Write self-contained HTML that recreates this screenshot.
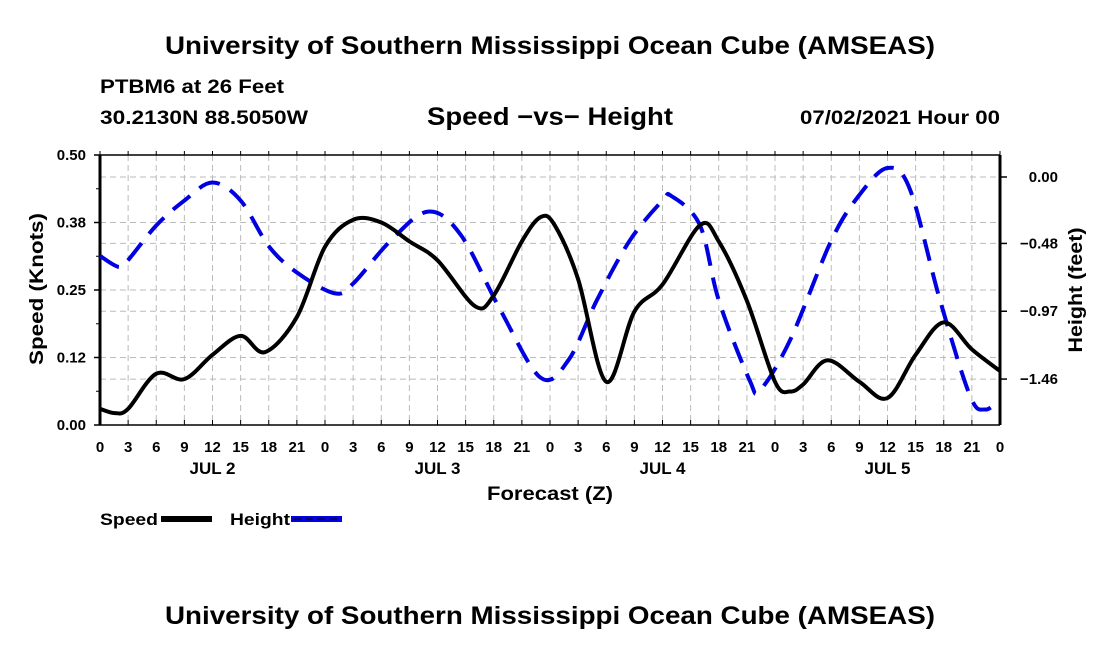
<!DOCTYPE html>
<html><head><meta charset="utf-8"><style>
body{margin:0;background:#fff;width:1100px;height:650px;overflow:hidden}
svg{display:block;font-family:"Liberation Sans",sans-serif;font-weight:bold}
</style></head><body>
<svg id="c" width="1100" height="650">
<text x="550" y="54" text-anchor="middle" font-size="25" textLength="770" lengthAdjust="spacingAndGlyphs">University of Southern Mississippi Ocean Cube (AMSEAS)</text>
<text x="100" y="93" font-size="19" textLength="184" lengthAdjust="spacingAndGlyphs">PTBM6 at 26 Feet</text>
<text x="100" y="124" font-size="19" textLength="208" lengthAdjust="spacingAndGlyphs">30.2130N  88.5050W</text>
<text x="427" y="125" font-size="25" textLength="246" lengthAdjust="spacingAndGlyphs">Speed −vs− Height</text>
<text x="800" y="124" font-size="19" textLength="200" lengthAdjust="spacingAndGlyphs">07/02/2021 Hour 00</text>
<g id="grid"></g><g id="axes"></g><g id="series"></g>
<text x="487" y="500" font-size="19" textLength="126" lengthAdjust="spacingAndGlyphs">Forecast (Z)</text>
<text transform="translate(43,289) rotate(-90)" text-anchor="middle" font-size="19" textLength="152" lengthAdjust="spacingAndGlyphs">Speed (Knots)</text>
<text transform="translate(1082,290) rotate(-90)" text-anchor="middle" font-size="19" textLength="125" lengthAdjust="spacingAndGlyphs">Height (feet)</text>
<g>
<text x="100" y="525" font-size="17" textLength="58" lengthAdjust="spacingAndGlyphs">Speed</text>
<rect x="161" y="516" width="51" height="6" fill="#000"/>
<text x="230" y="525" font-size="17" textLength="60" lengthAdjust="spacingAndGlyphs">Height</text>
<rect x="291" y="516" width="51" height="6" fill="#0000e0"/>
<line x1="293" y1="519" x2="340" y2="519" stroke="#000" stroke-width="1" stroke-dasharray="8 4"/>
</g>
<text x="550" y="624" text-anchor="middle" font-size="25" textLength="770" lengthAdjust="spacingAndGlyphs">University of Southern Mississippi Ocean Cube (AMSEAS)</text>
</svg>
<script>
const speedHours=[0,1.6,3,6,9,12,15,17.6,21,24,27,30,33,36,40,42,45,47,48.5,51,54,57,60,64,66,69,72,73.6,75,77.6,81,84,87,90,93,96];
const speedVals=[0.03,0.022,0.03,0.095,0.085,0.13,0.165,0.135,0.2,0.33,0.38,0.375,0.34,0.305,0.22,0.24,0.34,0.385,0.37,0.27,0.08,0.21,0.26,0.37,0.34,0.23,0.08,0.062,0.075,0.12,0.08,0.05,0.13,0.19,0.14,0.1];
const heightHours=[0,2,3,6,9,12,15,18,21,25,27,31,35,38.5,42.7,47,50,53,56.5,60,61,64,66,69.3,70.4,73.6,78,81,84,86.4,89.6,92.8,94.4,96];
const heightVals=[-0.57,-0.65,-0.6,-0.35,-0.17,-0.04,-0.17,-0.5,-0.69,-0.84,-0.77,-0.46,-0.25,-0.42,-0.96,-1.45,-1.32,-0.89,-0.46,-0.17,-0.14,-0.35,-0.89,-1.47,-1.54,-1.18,-0.46,-0.13,0.065,-0.09,-0.89,-1.58,-1.68,-1.61];
const leftTicks=[0,0.125,0.25,0.375,0.5];
const leftTickLabels=["0.00","0.12","0.25","0.38","0.50"];
const rightTicks=[0,-0.48,-0.97,-1.46];
const rightTickLabels=["0.00","−0.48","−0.97","−1.46"];
const dayLabels=["JUL 2","JUL 3","JUL 4","JUL 5"];
const NS="http://www.w3.org/2000/svg";
const X0=100,X1=1000,YT=155,YB=425;
const xs=h=>X0+(h/96)*(X1-X0);
const ys=v=>YB-(v/0.5)*(YB-YT);
const yh=v=>177-v*138.4;
function mk(tag,attrs,parent){const e=document.createElementNS(NS,tag);for(const k in attrs)e.setAttribute(k,attrs[k]);parent.appendChild(e);return e;}
const grid=document.getElementById('grid'),axes=document.getElementById('axes'),series=document.getElementById('series');
for(let h=3;h<96;h+=3){const l=mk('line',{x1:xs(h),x2:xs(h),y1:YT,y2:YB,stroke:'#bbb','stroke-dasharray':'6 4'},grid);

}
const hgy=[ys(0.375),ys(0.125),ys(0.25),yh(0),yh(-0.48),yh(-0.97),yh(-1.46)];
hgy.forEach(y=>{const l=mk('line',{x1:X0,x2:X1,y1:y,y2:y,stroke:'#bbb','stroke-dasharray':'6 4'},grid);

});
let a=mk('line',{x1:X0,x2:X0,y1:YT,y2:YB,stroke:'#000','stroke-width':3},axes);


a=mk('line',{x1:X1,x2:X1,y1:YT,y2:YB,stroke:'#000','stroke-width':3},axes);


a=mk('line',{x1:X0,x2:X1,y1:YB,y2:YB,stroke:'#000','stroke-width':1.5},axes);


a=mk('line',{x1:X0,x2:X1,y1:YT,y2:YT,stroke:'#000','stroke-width':1.5},axes);


for(let h=0;h<=96;h+=3){
 mk('line',{x1:xs(h),x2:xs(h),y1:YB,y2:YB-5,stroke:'#000'},axes);
 mk('line',{x1:xs(h),x2:xs(h),y1:YT,y2:YT-4,stroke:'#000'},axes);
 const t=mk('text',{x:xs(h),y:452,'text-anchor':'middle','font-size':15},axes);
 t.textContent=String(h%24);
 
 
}
dayLabels.forEach((d,i)=>{const t=mk('text',{x:xs(i*24+12),y:474,'text-anchor':'middle','font-size':17},axes);t.textContent=d;

});
leftTicks.forEach((v,i)=>{mk('line',{x1:X0-6,x2:X0,y1:ys(v),y2:ys(v),stroke:'#000','stroke-width':1.5},axes);
const t=mk('text',{x:86,y:ys(v)+5,'text-anchor':'end','font-size':15},axes);t.textContent=leftTickLabels[i];

});
for(let v=0.0625;v<0.5;v+=0.125)mk('line',{x1:X0-4,x2:X0,y1:ys(v),y2:ys(v),stroke:'#000'},axes);
rightTicks.forEach((v,i)=>{mk('line',{x1:X1,x2:X1+7,y1:yh(v),y2:yh(v),stroke:'#000','stroke-width':1.5},axes);
const t=mk('text',{x:1058,y:yh(v)+5,'text-anchor':'end','font-size':15},axes);t.textContent=rightTickLabels[i];

});
function smooth(pts){let d=`M${pts[0][0]},${pts[0][1]}`;
for(let i=0;i<pts.length-1;i++){const p0=pts[Math.max(0,i-1)],p1=pts[i],p2=pts[i+1],p3=pts[Math.min(pts.length-1,i+2)];
d+=` C${p1[0]+(p2[0]-p0[0])/6},${p1[1]+(p2[1]-p0[1])/6} ${p2[0]-(p3[0]-p1[0])/6},${p2[1]-(p3[1]-p1[1])/6} ${p2[0]},${p2[1]}`;}return d;}
const hp=mk('path',{d:smooth(heightHours.map((h,i)=>[xs(h),yh(heightVals[i])])),fill:'none',stroke:'#0000e0','stroke-width':4,'stroke-dasharray':'22 12'},series);


const sp=mk('path',{d:smooth(speedHours.map((h,i)=>[xs(h),ys(speedVals[i])])),fill:'none',stroke:'#000','stroke-width':4},series);


</script>
</body></html>
